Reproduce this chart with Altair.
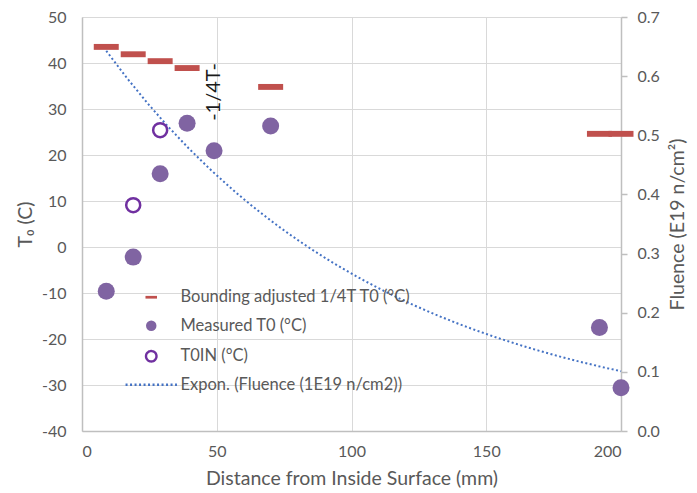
import altair as alt
import pandas as pd

# Distance from inside surface (mm) and transition temperatures (°C)
bound_x = [9, 19, 29, 39, 70, 192, 200]
bound_t0 = [43.5, 41.9, 40.4, 38.9, 34.8, 24.6, 24.6]

meas_x = [9, 19, 29, 39, 49, 70, 192, 200]
meas_t0 = [-9.6, -2.2, 15.9, 26.9, 20.9, 26.3, -17.5, -30.6]

toin_x = [19, 29]
toin_t0 = [9.1, 25.4]

# Fluence (1E19 n/cm2) at the specimen locations, fitted with an exponential trend
fluence_x = [9, 19, 29, 39, 49, 70, 192, 200]
fluence = [0.642, 0.583, 0.530, 0.481, 0.437, 0.356, 0.109, 0.101]

# Quarter-thickness marker
note_x = [49]
note_y = [33.7]
note_text = ["-1/4T-"]

S_BOUND = "Bounding adjusted 1/4T T0 (°C)"
S_MEAS = "Measured T0 (°C)"
S_TOIN = "T0IN (°C)"
S_EXP = "Expon. (Fluence (1E19 n/cm2))"
series = [S_BOUND, S_MEAS, S_TOIN, S_EXP]

bound_df = pd.DataFrame({"x": bound_x, "t0": bound_t0, "series": S_BOUND})
meas_df = pd.DataFrame({"x": meas_x, "t0": meas_t0, "series": S_MEAS})
toin_df = pd.DataFrame({"x": toin_x, "t0": toin_t0, "series": S_TOIN})
flu_df = pd.DataFrame({"x": fluence_x, "fluence": fluence})
note_df = pd.DataFrame({"x": note_x, "y": note_y, "text": note_text})

FONT = "Lato"
GREY = "#595959"
AXIS_LINE = "#BFBFBF"
GRID = "#D9D9D9"
HYPHEN_LABEL = "replace(datum.label, '\u2212', '-')"

DASH = "M-1.1,-0.26H1.1V0.26H-1.1Z"
LINE = "M-4.9,0H4.9"

shape_scale = alt.Scale(domain=series, range=[DASH, "circle", "circle", LINE])
fill_scale = alt.Scale(domain=series, range=["#C0504D", "#8064A2", "white", "transparent"])
stroke_scale = alt.Scale(domain=series, range=["transparent", "transparent", "#7030A0", "#4472C4"])
dash_scale = alt.Scale(domain=series, range=[[1, 0], [1, 0], [1, 0], [2, 2.5]])

leg = alt.Legend(
    title=None, orient="none", legendX=61, legendY=272,
    symbolSize=110, symbolStrokeWidth=2.4, labelFont=FONT, labelFontSize=16.5,
    labelColor=GREY, labelOffset=21, rowPadding=9.5, padding=0,
    labelLimit=400,
)

x_enc = alt.X(
    "x:Q",
    scale=alt.Scale(domain=[0, 200], nice=False, zero=False),
    axis=alt.Axis(
        values=[0, 50, 100, 150, 200], grid=True, gridColor=GRID, ticks=False,
        domainColor=AXIS_LINE, domainWidth=1.5, labelPadding=12,
        title="Distance from Inside Surface (mm)", titlePadding=10,
    ),
)

y_left = alt.Y(
    "t0:Q",
    scale=alt.Scale(domain=[-40, 50], nice=False, zero=False),
    axis=alt.Axis(
        values=list(range(-40, 51, 10)), grid=True, gridColor=GRID, ticks=False,
        domainColor=AXIS_LINE, domainWidth=1.5, labelPadding=16,
        labelExpr=HYPHEN_LABEL,
        title="T₀ (C)", titlePadding=6,
    ),
)

def point_enc():
    return dict(
        x=x_enc, y=y_left,
        shape=alt.Shape("series:N", scale=shape_scale, legend=leg),
        fill=alt.Fill("series:N", scale=fill_scale, legend=leg),
        stroke=alt.Stroke("series:N", scale=stroke_scale, legend=leg),
    )

bound = alt.Chart(bound_df).mark_point(size=516, opacity=1, strokeWidth=0, filled=True).encode(**point_enc())
meas = alt.Chart(meas_df).mark_point(size=289, opacity=1, strokeWidth=0, filled=True).encode(**point_enc())
toin = alt.Chart(toin_df).mark_point(size=196, opacity=1, strokeWidth=2.5, filled=True).encode(**point_enc())

note = alt.Chart(note_df).mark_text(
    angle=270, font=FONT, fontSize=20, color="#1a1a1a", align="center", baseline="middle"
).encode(x=alt.X("x:Q"), y=alt.Y("y:Q"), text="text:N")

trend = alt.Chart(flu_df).transform_regression(
    "x", "fluence", method="exp", extent=[9, 200]
).transform_calculate(
    series=f"'{S_EXP}'"
).mark_line(strokeWidth=2, opacity=1).encode(
    x=x_enc,
    y=alt.Y(
        "fluence:Q",
        scale=alt.Scale(domain=[0, 0.7], nice=False, zero=False),
        axis=alt.Axis(
            orient="right", values=[0, 0.1, 0.2, 0.3, 0.4, 0.5, 0.6, 0.7], format=".1f",
            grid=False, ticks=True, tickSize=6, tickColor=AXIS_LINE, tickWidth=1.5,
            domainColor=AXIS_LINE, domainWidth=1.5, labelPadding=10,
            title="Fluence (E19 n/cm²)", titleAngle=270, titleBaseline="top",
            titlePadding=9,
        ),
    ),
    stroke=alt.Stroke("series:N", scale=stroke_scale, legend=leg),
    strokeDash=alt.StrokeDash("series:N", scale=dash_scale, legend=leg),
)

left = alt.layer(bound, meas, toin, note)

chart = alt.layer(trend, left).resolve_scale(y="independent").properties(
    width=539, height=414,
    autosize=alt.AutoSizeParams(type="none"),
    padding={"left": 82, "top": 17, "right": 76, "bottom": 62},
).configure_view(stroke=None).configure_axis(
    labelFont=FONT, labelFontSize=16, labelColor=GREY,
    titleFont=FONT, titleFontSize=19.5, titleColor=GREY, titleFontWeight="normal",
)

chart.save("out.html", embed_options={"renderer": "svg", "actions": False})
